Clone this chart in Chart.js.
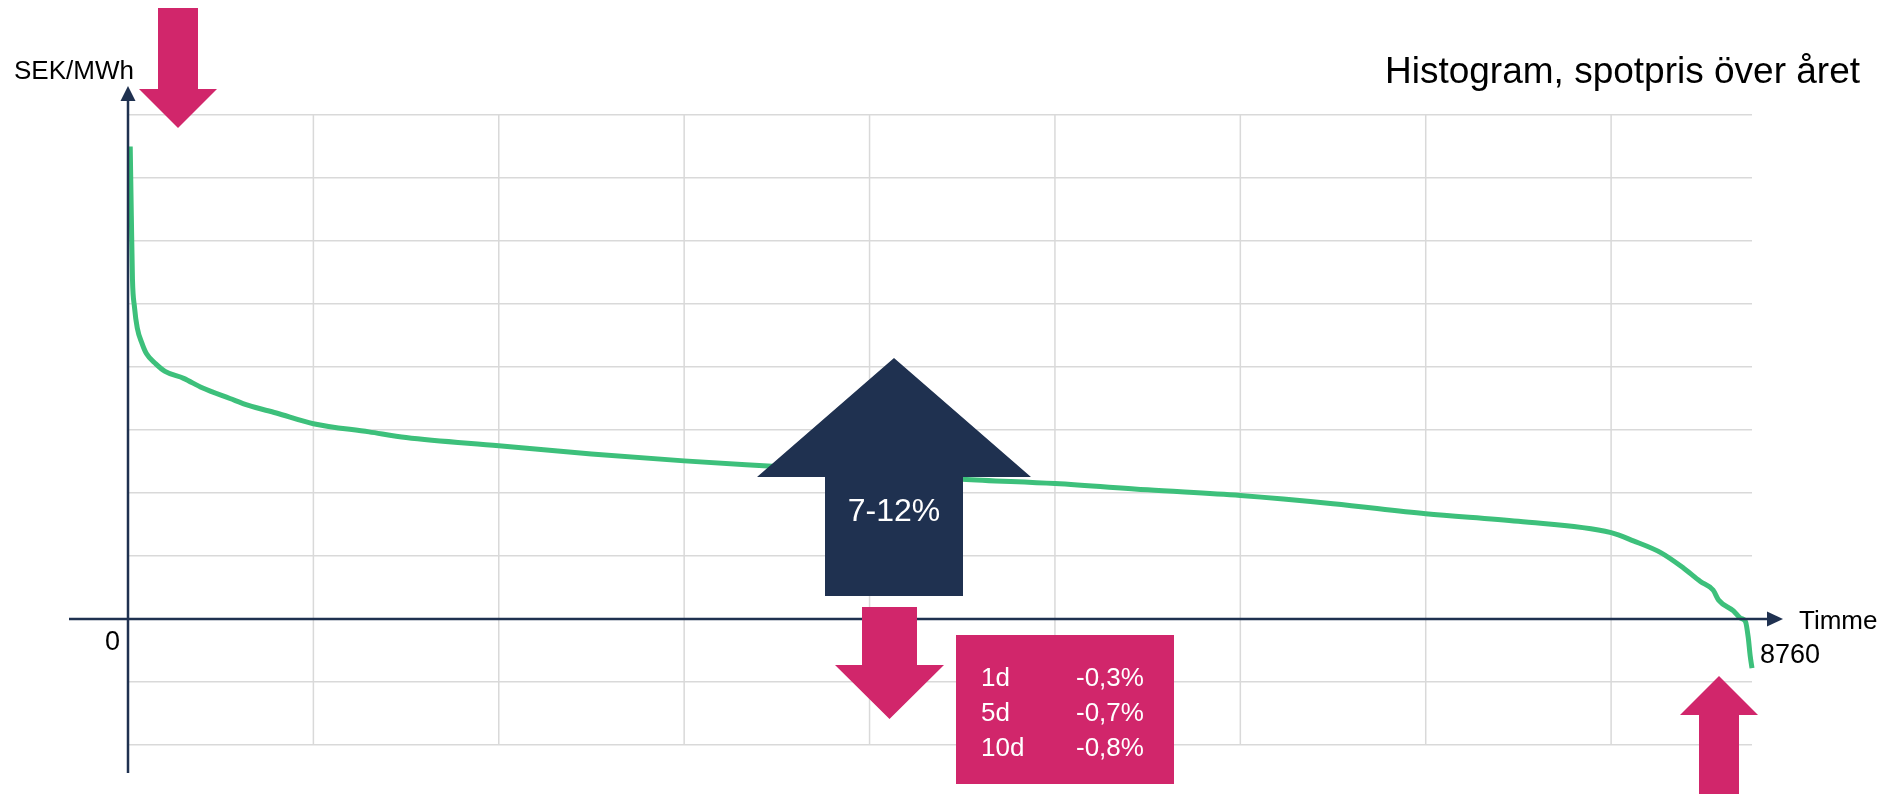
<!DOCTYPE html>
<html>
<head>
<meta charset="utf-8">
<script src="https://cdn.jsdelivr.net/npm/chart.js@4/dist/chart.umd.min.js"></script>
<style>
    html, body { margin: 0; padding: 0; background: #fff; }
    #wrap { position: relative; width: 1886px; height: 794px; }
</style>
</head>
<body>
<div id="wrap"><canvas id="durationChart" width="1886" height="794"></canvas></div>
<script>
// Varaktighetskurva (sorterat spotpris), läst ur bilden
const hours = [12, 18, 24, 35, 50, 75, 100, 150, 200, 300, 400, 550, 650, 800, 1000, 1300, 1500, 2000, 2500, 3000,
    3500, 4000, 4500, 5000, 5500, 6000, 6500, 7000, 7500, 8000, 8120, 8270, 8390, 8480, 8550, 8580, 8660, 8700,
    8725, 8740, 8750, 8760];
const prices = [750, 640, 540, 495, 462, 438, 421, 405, 393, 382, 367, 350, 339, 327, 310, 297, 288, 275, 262, 251,
    242, 233, 222, 215, 205, 196, 183, 167, 155, 137, 124, 105, 81, 60, 46, 30, 13, 1,
    -4, -30, -58, -78];

const xMax = 8760;
const xStep = 1000;
const yMin = -200;
const yMax = 800;
const yStep = 100;

const chartTitle = 'Histogram, spotpris över året';
const yAxisTitle = 'SEK/MWh';
const xAxisTitle = 'Timme';
const originLabel = '0';
const endLabel = '8760';
const forecastLabel = '7-12%';
const changePeriods = ['1d', '5d', '10d'];
const changeValues = ['-0,3%', '-0,7%', '-0,8%'];

const NAVY = '#1f3150';
const PINK = '#d1266b';
const GREEN = '#3dc07b';
const GRID = '#d9d9d9';
const FONT = "'Liberation Sans', Arial, sans-serif";

function poly(ctx, pts, color) {
    ctx.beginPath();
    ctx.moveTo(pts[0][0], pts[0][1]);
    pts.slice(1).forEach(p => ctx.lineTo(p[0], p[1]));
    ctx.closePath();
    ctx.fillStyle = color;
    ctx.fill();
}

// block arrow: cx = centre, shaft/head half widths, y of shaft end, head base and tip
function blockArrow(ctx, cx, shaftHalf, headHalf, yEnd, yBase, yTip, color) {
    poly(ctx, [
        [cx - shaftHalf, yEnd], [cx + shaftHalf, yEnd], [cx + shaftHalf, yBase], [cx + headHalf, yBase],
        [cx, yTip], [cx - headHalf, yBase], [cx - shaftHalf, yBase]
    ], color);
}

// vertical grid every xStep hours (the x scale's own grid did not show up)
const hourGrid = {
    id: 'hourGrid',
    beforeDatasetsDraw(chart) {
        const {ctx, chartArea, scales: {x}} = chart;
        ctx.save();
        ctx.strokeStyle = GRID;
        ctx.lineWidth = 1.5;
        ctx.beginPath();
        for (let h = xStep; h < xMax; h += xStep) {
            const px = x.getPixelForValue(h);
            ctx.moveTo(px, chartArea.top);
            ctx.lineTo(px, chartArea.bottom);
        }
        ctx.stroke();
        ctx.restore();
    }
};

const axesAndNotes = {
    id: 'axesAndNotes',
    afterDatasetsDraw(chart) {
        const {ctx, chartArea, scales: {x, y}} = chart;
        const x0 = x.getPixelForValue(0);
        const y0 = y.getPixelForValue(0);
        const xEnd = x.getPixelForValue(xMax);

        ctx.save();
        // axes with arrow heads
        ctx.strokeStyle = NAVY;
        ctx.lineWidth = 2.5;
        ctx.beginPath();
        ctx.moveTo(x0, chartArea.bottom + 28);
        ctx.lineTo(x0, chartArea.top - 20);
        ctx.moveTo(x0 - 59, y0);
        ctx.lineTo(xEnd + 20, y0);
        ctx.stroke();
        poly(ctx, [[x0, chartArea.top - 29], [x0 + 7.5, chartArea.top - 14], [x0 - 7.5, chartArea.top - 14]], NAVY);
        poly(ctx, [[xEnd + 31, y0], [xEnd + 15, y0 - 7.5], [xEnd + 15, y0 + 7.5]], NAVY);

        // texts
        ctx.fillStyle = '#000';
        ctx.textBaseline = 'alphabetic';
        ctx.font = '26px ' + FONT;
        ctx.textAlign = 'left';
        ctx.fillText(yAxisTitle, 14, 79);
        ctx.fillText(xAxisTitle, xEnd + 47, y0 + 10);
        ctx.font = '27px ' + FONT;
        ctx.fillText(endLabel, xEnd + 8, y0 + 44);
        ctx.textAlign = 'right';
        ctx.fillText(originLabel, x0 - 8, y0 + 31);
        ctx.font = '37px ' + FONT;
        ctx.fillText(chartTitle, 1860, 83);

        // forecast arrow
        blockArrow(ctx, 894, 69, 137, 596, 477, 358, NAVY);
        ctx.fillStyle = '#fff';
        ctx.textAlign = 'center';
        ctx.font = '32px ' + FONT;
        ctx.fillText(forecastLabel, 894, 521);

        // pink markers
        blockArrow(ctx, 178, 20, 39, 8, 89, 128, PINK);
        blockArrow(ctx, 889.5, 27.5, 54.5, 607, 665, 719, PINK);
        blockArrow(ctx, 1719, 20, 39, 800, 715, 676, PINK);

        // change box
        ctx.fillStyle = PINK;
        ctx.fillRect(956, 635, 218, 149);
        ctx.fillStyle = '#fff';
        ctx.textAlign = 'left';
        ctx.font = '26px ' + FONT;
        changePeriods.forEach((p, i) => {
            const by = 686 + i * 35;
            ctx.fillText(p, 981, by);
            ctx.fillText(changeValues[i], 1076, by);
        });
        ctx.restore();
    }
};

const ctx = document.getElementById('durationChart');
new Chart(ctx, {
    type: 'line',
    data: {
        datasets: [{
            label: 'Spotpris',
            data: hours.map((h, i) => ({x: h, y: prices[i]})),
            borderColor: GREEN,
            borderWidth: 5,
            pointRadius: 0,
            cubicInterpolationMode: 'monotone',
            fill: false,
            clip: false
        }]
    },
    options: {
        responsive: false,
        animation: false,
        devicePixelRatio: 1,
        layout: { padding: { left: 128, right: 134, top: 115, bottom: 49 } },
        plugins: {
            legend: { display: false },
            title: { display: false },
            tooltip: { enabled: false }
        },
        scales: {
            x: {
                type: 'linear',
                display: false,
                min: 0,
                max: xMax
            },
            y: {
                type: 'linear',
                min: yMin,
                max: yMax,
                ticks: { display: false, stepSize: yStep },
                grid: { color: GRID, lineWidth: 1.5, drawTicks: false },
                border: { display: false }
            }
        }
    },
    plugins: [hourGrid, axesAndNotes]
});
</script>
</body>
</html>
